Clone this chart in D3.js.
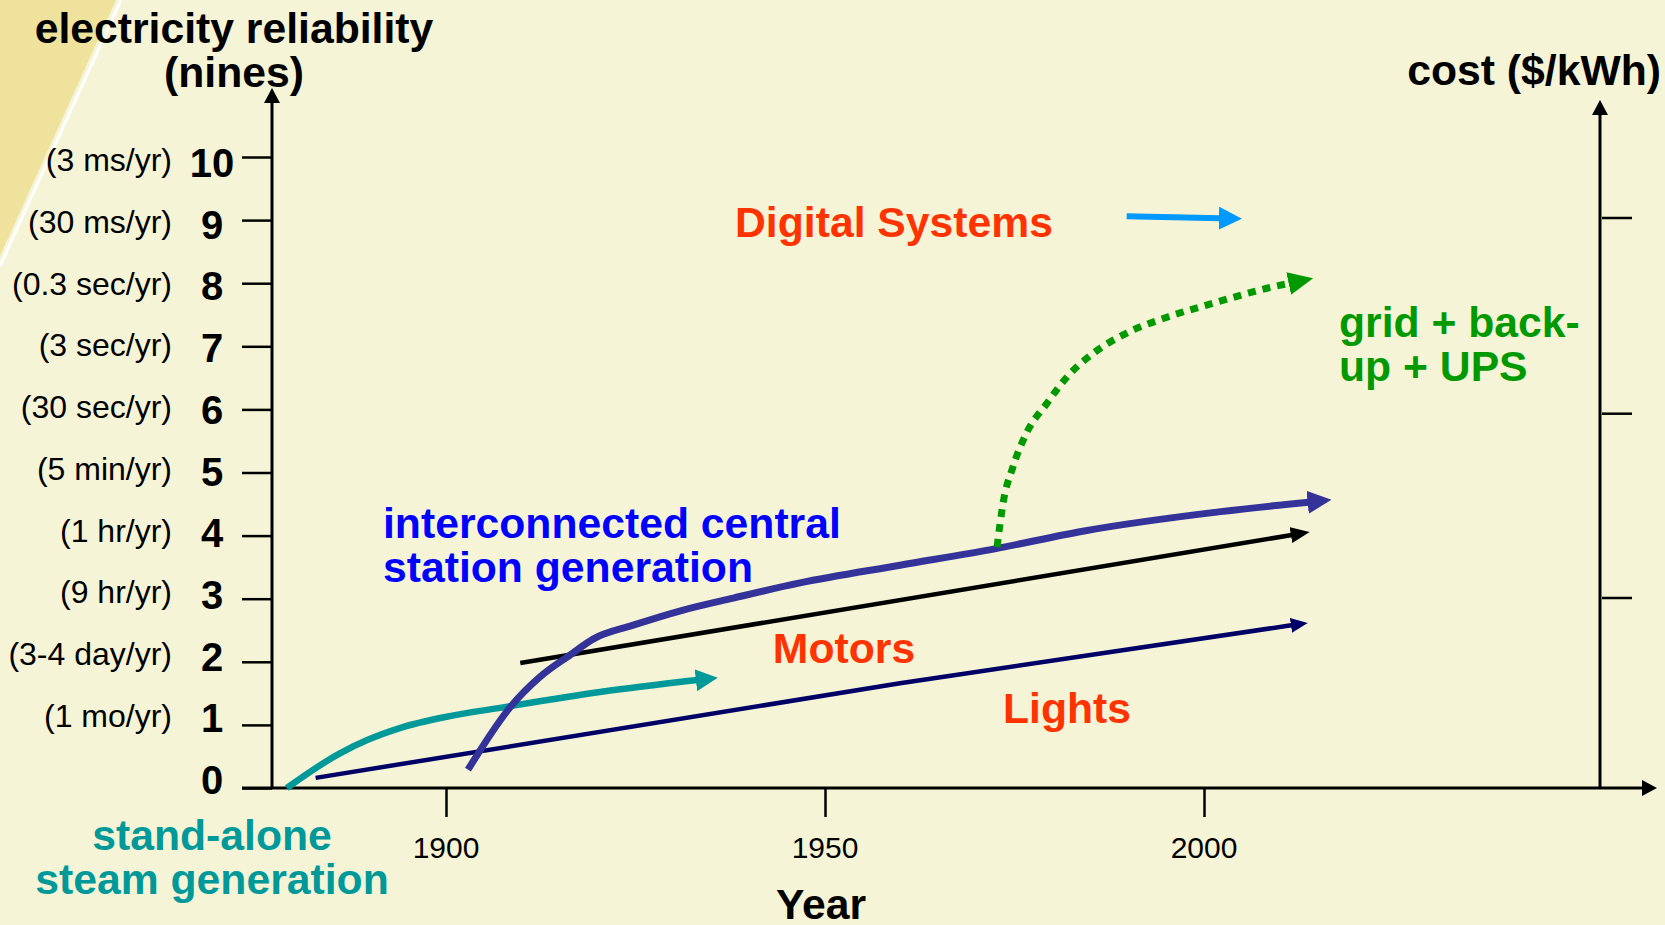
<!DOCTYPE html>
<html>
<head>
<meta charset="utf-8">
<script src="https://cdn.jsdelivr.net/npm/d3@7"></script>
<style>
  html, body { margin: 0; padding: 0; background: #F6F4D6; }
  svg { display: block; font-family: "Liberation Sans", Arial, sans-serif; }
</style>
</head>
<body>
<svg id="chart" width="1665" height="925"></svg>
<script>
// reliability axis (nines) and what each level means in outage time
const ninesTicks = [0, 1, 2, 3, 4, 5, 6, 7, 8, 9, 10];
const ninesNotes = ['', '(1 mo/yr)', '(3-4 day/yr)', '(9 hr/yr)', '(1 hr/yr)', '(5 min/yr)',
  '(30 sec/yr)', '(3 sec/yr)', '(0.3 sec/yr)', '(30 ms/yr)', '(3 ms/yr)'];
const yearTicks = [1900, 1950, 2000];
const costTicks = [1, 1.97, 3];

// series: year -> nines
const steamYears = [1879.0, 1886.0, 1889.6, 1893.9, 1900.1, 1907.1, 1920.3, 1933.1];
const steamNines = [0, 0.55, 0.76, 0.95, 1.13, 1.27, 1.52, 1.71];

const lightsYears = [1882.8, 1959.9, 2011.6];
const lightsNines = [0.16, 1.66, 2.58];

const motorsYears = [1909.8, 2011.6];
const motorsNines = [1.98, 4.01];

const centralYears = [1902.9, 1908.4, 1912.4, 1916.4, 1919.4, 1924.7, 1931.3, 1937.9, 1946.7, 1959.9, 1972.4, 1984.0, 2002.2, 2013.8];
const centralNines = [0.29, 1.27, 1.76, 2.11, 2.36, 2.58, 2.82, 3.01, 3.25, 3.53, 3.79, 4.07, 4.38, 4.53];

const gridYears = [1972.7, 1973.5, 1974.8, 1976.6, 1979.3, 1981.9, 1985.4, 1989.8, 1995.1, 2001.7, 2008.3, 2011.3];
const gridNines = [3.82, 4.52, 5.09, 5.63, 6.10, 6.51, 6.89, 7.21, 7.46, 7.70, 7.92, 8.00];

const digitalYears = [1989.8, 2002.1];
const digitalNines = [9.06, 9.03];

const svg = d3.select('#chart');
const font = '"Liberation Sans", Arial, sans-serif';

const x = d3.scaleLinear().domain([1900, 2000]).range([446, 1204]);
const y = d3.scaleLinear().domain([0, 10]).range([788, 157]);
// the tick texts sit on a slightly tighter pitch than the tick marks
const yNum = d3.scaleLinear().domain([0, 10]).range([794, 177]);
const yNote = d3.scaleLinear().domain([1, 10]).range([727, 171]);
const yCost = d3.scaleLinear().domain([0, 3]).range([788, 218]);

const axisX = 272, baseY = 788, costX = 1600;

// corner decoration
svg.append('path').attr('d', 'M0,0L116,0L0,256Z').attr('fill', '#EFE29C');
svg.append('line').attr('x1', 121).attr('y1', 0).attr('x2', 0).attr('y2', 266)
  .attr('stroke', '#fff').attr('stroke-width', 3);

const defs = svg.append('defs');
function marker(id, color, len, w) {
  defs.append('marker')
    .attr('id', id)
    .attr('markerUnits', 'userSpaceOnUse')
    .attr('viewBox', `0 ${-w / 2} ${len} ${w}`)
    .attr('refX', 1).attr('refY', 0)
    .attr('markerWidth', len).attr('markerHeight', w)
    .attr('orient', 'auto')
    .append('path')
    .attr('d', `M0,${-w / 2}L${len},0L0,${w / 2}Z`)
    .attr('fill', color);
}
marker('axisArrow', '#000', 15, 16);

// axes lines
svg.append('line').attr('x1', axisX).attr('y1', baseY).attr('x2', axisX).attr('y2', 102)
  .attr('stroke', '#000').attr('stroke-width', 3).attr('marker-end', 'url(#axisArrow)');
svg.append('line').attr('x1', 242).attr('y1', baseY).attr('x2', 1643).attr('y2', baseY)
  .attr('stroke', '#000').attr('stroke-width', 3).attr('marker-end', 'url(#axisArrow)');
svg.append('line').attr('x1', costX).attr('y1', baseY).attr('x2', costX).attr('y2', 114)
  .attr('stroke', '#000').attr('stroke-width', 3).attr('marker-end', 'url(#axisArrow)');

// y axis ticks
const gy = svg.append('g').attr('transform', `translate(${axisX},0)`)
  .call(d3.axisLeft(y).tickValues(ninesTicks).tickSize(30).tickFormat(''));
gy.select('.domain').remove();
gy.selectAll('.tick line').attr('stroke', '#000').attr('stroke-width', 2.5);

svg.selectAll('.nineNum').data(ninesTicks).join('text')
  .attr('class', 'nineNum')
  .attr('x', 212).attr('y', d => yNum(d))
  .attr('text-anchor', 'middle')
  .style('font-family', font).style('font-weight', 'bold').style('font-size', '40px')
  .text(d => d);

svg.selectAll('.nineNote').data(ninesTicks.filter(d => ninesNotes[d])).join('text')
  .attr('class', 'nineNote')
  .attr('x', 172).attr('y', d => yNote(d))
  .attr('text-anchor', 'end')
  .style('font-family', font).style('font-size', '32px')
  .text(d => ninesNotes[d]);

// x axis ticks
const gx = svg.append('g').attr('transform', `translate(0,${baseY})`)
  .call(d3.axisBottom(x).tickValues(yearTicks).tickSize(29).tickFormat(''));
gx.select('.domain').remove();
gx.selectAll('.tick line').attr('stroke', '#000').attr('stroke-width', 2.5);

svg.selectAll('.yearLbl').data(yearTicks).join('text')
  .attr('class', 'yearLbl')
  .attr('x', d => x(d)).attr('y', 858)
  .attr('text-anchor', 'middle')
  .style('font-family', font).style('font-size', '30px')
  .text(d => d);

// cost axis ticks
svg.selectAll('.costTick').data(costTicks).join('line')
  .attr('class', 'costTick')
  .attr('x1', costX + 2).attr('x2', costX + 32)
  .attr('y1', d => yCost(d)).attr('y2', d => yCost(d))
  .attr('stroke', '#000').attr('stroke-width', 2.5);

// series
const series = [
  { id: 'steam', years: steamYears, nines: steamNines, color: '#009999', width: 6.5, len: 22, head: 22 },
  { id: 'lights', years: lightsYears, nines: lightsNines, color: '#000066', width: 4.5, len: 17, head: 15 },
  { id: 'motors', years: motorsYears, nines: motorsNines, color: '#000000', width: 4.5, len: 19, head: 16 },
  { id: 'central', years: centralYears, nines: centralNines, color: '#333399', width: 7, len: 24, head: 23 },
  { id: 'grid', years: gridYears, nines: gridNines, color: '#009900', width: 7, len: 25, head: 23, dash: '8,7' },
  { id: 'digital', years: digitalYears, nines: digitalNines, color: '#0099FF', width: 6, len: 23, head: 23 }
];

const line = d3.line().x(d => x(d[0])).y(d => y(d[1])).curve(d3.curveMonotoneX);

series.forEach(s => marker('arr-' + s.id, s.color, s.len, s.head));

svg.selectAll('.series').data(series).join('path')
  .attr('class', 'series')
  .attr('d', s => line(s.years.map((yr, i) => [yr, s.nines[i]])))
  .attr('fill', 'none')
  .attr('stroke', s => s.color)
  .attr('stroke-width', s => s.width)
  .attr('stroke-dasharray', s => s.dash || null)
  .attr('marker-end', s => `url(#arr-${s.id})`);

// labels
function label(lines, xPos, yPos, color, anchor, size, weight) {
  const t = svg.append('text')
    .attr('text-anchor', anchor || 'start')
    .style('font-family', font)
    .style('font-weight', weight || 'bold')
    .style('font-size', (size || 42.7) + 'px')
    .attr('fill', color);
  lines.forEach((l, i) => {
    t.append('tspan').attr('x', xPos).attr('y', yPos + i * 44).text(l);
  });
}

label(['electricity reliability', '(nines)'], 234, 43, '#000', 'middle');
label(['cost ($/kWh)'], 1661, 85, '#000', 'end');
label(['Digital Systems'], 894, 237, '#FF3300', 'middle');
label(['grid + back-', 'up + UPS'], 1339, 337, '#009900', 'start');
label(['interconnected central', 'station generation'], 383, 538, '#0000FF', 'start');
label(['Motors'], 844, 663, '#FF3300', 'middle');
label(['Lights'], 1067, 723, '#FF3300', 'middle');
label(['stand-alone', 'steam generation'], 212, 850, '#009999', 'middle');
label(['Year'], 821, 919, '#000', 'middle');
</script>
</body>
</html>
